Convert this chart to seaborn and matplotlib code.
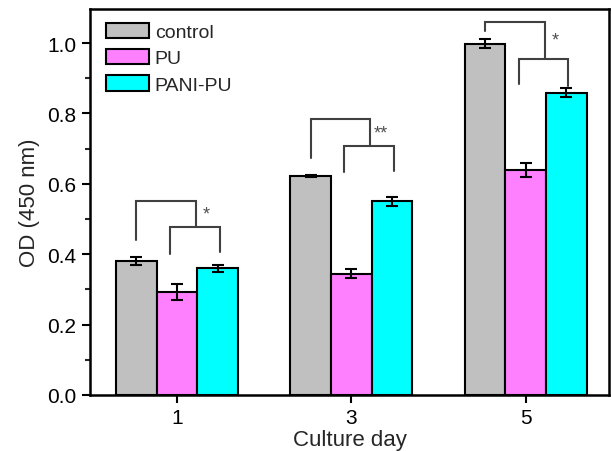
import matplotlib
matplotlib.use("Agg")
import matplotlib.pyplot as plt
import seaborn as sns
import pandas as pd
import numpy as np
from matplotlib.ticker import MultipleLocator
from matplotlib.patches import Patch

days = ["1", "3", "5"]
groups = ["control", "PU", "PANI-PU"]
control = [0.381, 0.621, 0.998]
pu = [0.293, 0.345, 0.638]
pani_pu = [0.360, 0.550, 0.859]
control_err = [0.011, 0.003, 0.013]
pu_err = [0.022, 0.012, 0.020]
pani_pu_err = [0.010, 0.013, 0.013]
colors = ["#C0C0C0", "#FF80FF", "#00FFFF"]

# significance brackets (data values)
outer_top = [0.551, 0.784, 1.060]
outer_left_bottom = [0.440, 0.673, 1.034]
inner_top = [0.477, 0.707, 0.955]
inner_left_bottom = [0.400, 0.633, 0.884]
inner_right_bottom = [0.406, 0.636, 0.878]
sig_labels = ["*", "**", "*"]

df = pd.DataFrame({
    "day": days * 3,
    "group": [g for g in groups for _ in days],
    "value": control + pu + pani_pu,
    "err": control_err + pu_err + pani_pu_err,
})

sns.set_style("ticks")
plt.rcParams["font.family"] = ["Liberation Sans", "DejaVu Sans"]

fig = plt.figure(figsize=(6.11, 4.52), dpi=100)
ax = fig.add_axes([0.147, 0.124, 0.85, 0.854])

sns.barplot(data=df, x="day", y="value", hue="group", order=days,
            hue_order=groups, palette=colors, errorbar=None, width=0.7,
            saturation=1, edgecolor="black", linewidth=1.5, ax=ax, legend=False)

# error bars at bar centers
for i, g in enumerate(groups):
    sub = df[df.group == g].set_index("day").loc[days]
    xs = np.arange(len(days)) + (i - 1) * 0.7 / 3
    ax.errorbar(xs, sub["value"], yerr=sub["err"], fmt="none", ecolor="black",
                elinewidth=1.5, capsize=4, capthick=1.5, zorder=5)

# brackets
bw = 0.7 / 3
lc = "#404040"
for k in range(len(days)):
    xl = k - bw
    xr = k + 0.11
    ax.plot([xl, xl, xr, xr], [outer_left_bottom[k], outer_top[k], outer_top[k], inner_top[k]],
            color=lc, lw=1.5, solid_joinstyle="miter")
    il = k - 0.04
    ir = k + 0.245
    ax.plot([il, il, ir, ir], [inner_left_bottom[k], inner_top[k], inner_top[k], inner_right_bottom[k]],
            color=lc, lw=1.5, solid_joinstyle="miter")
    ax.text(k + 0.17, (outer_top[k] + inner_top[k]) / 2, sig_labels[k], ha="center",
            va="center", fontsize=13, color="#505050")

ax.set_xlim(-0.5, 2.48)
ax.set_ylim(0, 1.097)
ax.yaxis.set_major_locator(MultipleLocator(0.2))
ax.yaxis.set_minor_locator(MultipleLocator(0.1))
ax.yaxis.set_major_formatter(matplotlib.ticker.FormatStrFormatter("%.1f"))
ax.tick_params(axis="both", which="major", direction="out", length=6, width=1.5,
               labelsize=15, colors="black")
ax.tick_params(axis="y", which="minor", direction="out", length=3.5, width=1.5)
ax.tick_params(top=False, right=False)
for s in ax.spines.values():
    s.set_visible(True)
    s.set_linewidth(1.8)
    s.set_color("black")

ax.set_xlabel("Culture day", fontsize=16, labelpad=1)
ax.set_ylabel("OD (450 nm)", fontsize=16, labelpad=5)

handles = [Patch(facecolor=c, edgecolor="black", linewidth=1.5) for c in colors]
ax.legend(handles, groups, loc="upper left", frameon=False, fontsize=14,
          handlelength=2.2, handleheight=0.85, labelspacing=0.4,
          handletextpad=0.3, borderaxespad=0.3, bbox_to_anchor=(0.005, 1.0))

fig.savefig("out.png", dpi=100)
